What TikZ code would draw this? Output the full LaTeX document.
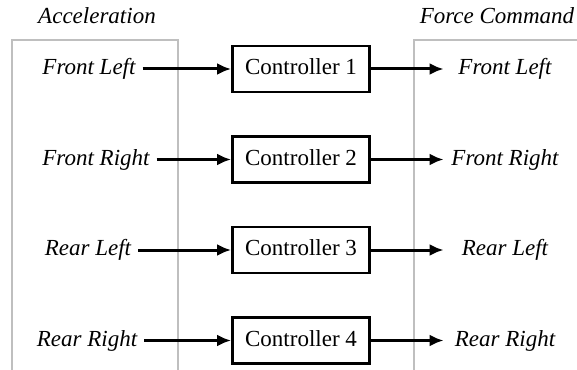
\documentclass[tikz,border=0pt]{standalone}
\usepackage{fontspec}
\setmainfont{LiberationSerif}[Extension=.ttf, UprightFont=*-Regular, ItalicFont=*-Italic, BoldFont=*-Bold, BoldItalicFont=*-BoldItalic]
\usetikzlibrary{positioning,arrows.meta}

\begin{document}
\begin{tikzpicture}[x=0.5pt, y=-0.5pt, node distance={20.85pt},
    font=\rmfamily\fontsize{11.5}{14}\selectfont,
    ctrl/.style = {draw, line width=1.4pt, rectangle, minimum width=68.5pt, minimum height=23pt, inner sep=0pt, text height=8pt, text depth=2.5pt},
    sig/.style = {font=\rmfamily\fontsize{11.5}{14}\selectfont\itshape, text height=8pt, text depth=2.5pt},
    outsig/.style = {sig, minimum width=61pt, inner sep=0pt},
    group/.style = {draw=black!25, line width=1.4pt, rectangle, inner sep=0pt},
    flow/.style = {line width=1.5pt, -{Latex[length=7pt,width=6pt]}}
    ]
\useasboundingbox (0,0) rectangle (577,369);
\clip (0,0) rectangle (577,369);

% frames (open at the bottom edge)
\node[group, minimum width=83pt, minimum height=180pt] (accbox) at (95,220) {};
\node[group, minimum width=93pt, minimum height=180pt] (forcebox) at (507,220) {};
\node[sig] (acc) at (97,18) {Acceleration};
\node[sig] (force) at (497,18) {Force Command};

\node[ctrl] (c1) at (301,69) {Controller 1};
\node[ctrl] (c2) [below=of c1] {Controller 2};
\node[ctrl] (c3) [below=of c2] {Controller 3};
\node[ctrl] (c4) [below=of c3] {Controller 4};

\node[sig] (inFL) at (89,69) {Front Left};
\node[sig] (inFR) at (96,159.5) {Front Right};
\node[sig] (inRL) at (88,250) {Rear Left};
\node[sig] (inRR) at (87,340.5) {Rear Right};

\node[outsig] (outFL) at (505,69) {Front Left};
\node[outsig] (outFR) at (505,159.5) {Front Right};
\node[outsig] (outRL) at (505,250) {Rear Left};
\node[outsig] (outRR) at (505,340.5) {Rear Right};

\draw[flow] (inFL) -- (c1);
\draw[flow] (inFR) -- (c2);
\draw[flow] (inRL) -- (c3);
\draw[flow] (inRR) -- (c4);
\draw[flow] (c1) -- (outFL);
\draw[flow] (c2) -- (outFR);
\draw[flow] (c3) -- (outRL);
\draw[flow] (c4) -- (outRR);

\end{tikzpicture}
\end{document}
